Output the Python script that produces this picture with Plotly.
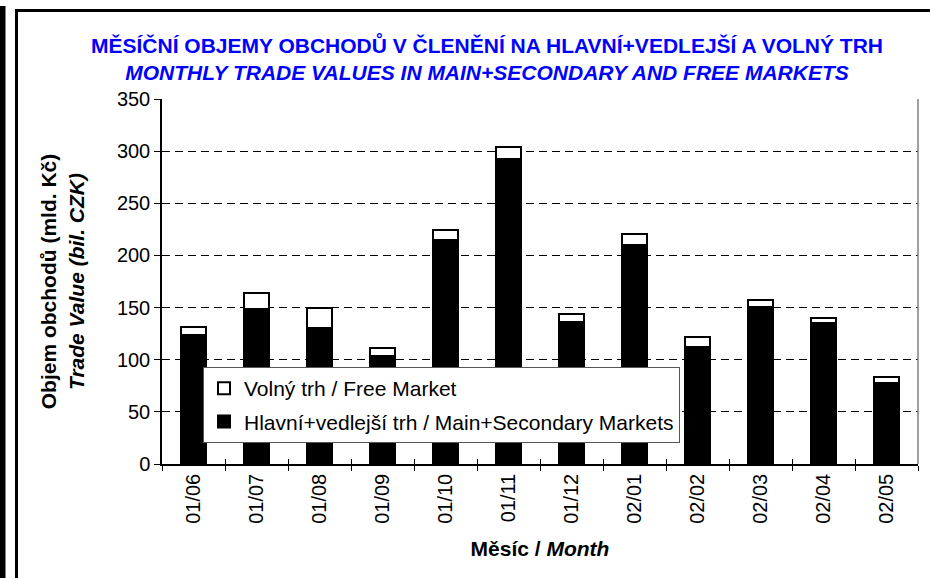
import plotly.graph_objects as go

months = ["01/06", "01/07", "01/08", "01/09", "01/10", "01/11",
          "01/12", "02/01", "02/02", "02/03", "02/04", "02/05"]
main_secondary = [124, 149, 130, 104, 215, 292, 136, 210, 112, 151, 135, 78]
free_market = [7, 15, 20, 7, 9, 12, 8, 11, 10, 6, 5, 5]

FONT = "Liberation Sans, Arial, sans-serif"
W, H = 930, 578
L, R, T, B = 162, 918, 99, 464


def px(x):
    return (x - L) / (R - L)


def py(y):
    return (B - y) / (B - T)


fig = go.Figure()
fig.add_trace(go.Bar(
    x=months, y=main_secondary,
    name="Hlavní+vedlejší trh / Main+Secondary Markets",
    marker=dict(color="black", line=dict(color="black", width=2)),
    legendgroup="b", legendrank=2,
))
fig.add_trace(go.Bar(
    x=months, y=free_market,
    name="Volný trh / Free Market",
    marker=dict(color="white", line=dict(color="black", width=2)),
    legendgroup="a", legendrank=1,
))
# helper trace for inner (crossing) tick marks
fig.add_trace(go.Scatter(x=months, y=[None] * len(months), xaxis="x2", yaxis="y2",
                         showlegend=False, hoverinfo="skip", mode="markers"))

fig.update_layout(
    width=W, height=H,
    margin=dict(l=L, r=W - R, t=T, b=H - B, autoexpand=False),
    paper_bgcolor="white", plot_bgcolor="white",
    barmode="stack", bargap=0.59,
    font=dict(family=FONT, size=20, color="black"),
    title=dict(
        text="<b>MĚSÍČNÍ OBJEMY OBCHODŮ V ČLENĚNÍ NA HLAVNÍ+VEDLEJŠÍ A VOLNÝ TRH</b><br>"
             "<b><i>MONTHLY TRADE VALUES IN MAIN+SECONDARY AND FREE MARKETS</i></b>",
        font=dict(family=FONT, size=21, color="#0000FF"),
        x=487 / W, xref="container", xanchor="center",
        y=1 - 53 / H, yref="container", yanchor="middle",
    ),
    xaxis=dict(
        type="category", categoryorder="array", categoryarray=months,
        range=[-0.5, 11.5], tickson="boundaries",
        ticks="outside", ticklen=5, tickwidth=1, tickcolor="black",
        tickangle=-90, showline=True, linecolor="black", linewidth=1.5,
        showgrid=False, tickfont=dict(size=20),
        title=dict(text="<b>Měsíc / <i>Month</i></b>", font=dict(size=21), standoff=18),
        automargin=False,
    ),
    yaxis=dict(
        range=[0, 350], dtick=50, tick0=0,
        ticks="outside", ticklen=6, tickwidth=1, tickcolor="black",
        showline=True, linecolor="black", linewidth=1.5,
        showgrid=True, gridcolor="black", gridwidth=1, griddash="8px,5px",
        zeroline=False, tickfont=dict(size=20),
        title=dict(text="<b>Objem obchodů (mld. Kč)</b><br><b><i>Trade Value (bil. CZK)</i></b>",
                   font=dict(size=21), standoff=27),
        automargin=False,
    ),
    xaxis2=dict(
        overlaying="x", anchor="y2", type="category", categoryorder="array",
        categoryarray=months, range=[-0.5, 11.5], tickson="boundaries",
        ticks="inside", ticklen=5, tickwidth=1, tickcolor="black",
        showticklabels=False, showgrid=False, showline=False, zeroline=False,
    ),
    yaxis2=dict(
        overlaying="y", anchor="x2", range=[0, 350], dtick=50,
        ticks="inside", ticklen=5, tickwidth=1, tickcolor="black",
        showticklabels=False, showgrid=False, showline=False, zeroline=False,
    ),
    legend=dict(
        x=px(203), y=py(367), xanchor="left", yanchor="top",
        bgcolor="white", bordercolor="#555555", borderwidth=1,
        font=dict(size=21), traceorder="grouped", tracegroupgap=3,
    ),
    shapes=[
        dict(type="rect", xref="paper", yref="paper", x0=px(0), x1=px(5.5),
             y0=py(578), y1=py(6), fillcolor="black", line=dict(width=0)),
        dict(type="rect", xref="paper", yref="paper", x0=px(15), x1=px(18),
             y0=py(578), y1=py(9), fillcolor="black", line=dict(width=0)),
        dict(type="rect", xref="paper", yref="paper", x0=px(15), x1=px(930),
             y0=py(12), y1=py(9), fillcolor="black", line=dict(width=0)),
        dict(type="line", xref="paper", yref="paper", x0=1, x1=1, y0=0, y1=1,
             line=dict(color="#808080", width=1.5)),
    ],
)

fig.write_html("out.html", config={"displayModeBar": False},
               post_script="document.body.style.margin='0';document.body.style.overflow='hidden';")
